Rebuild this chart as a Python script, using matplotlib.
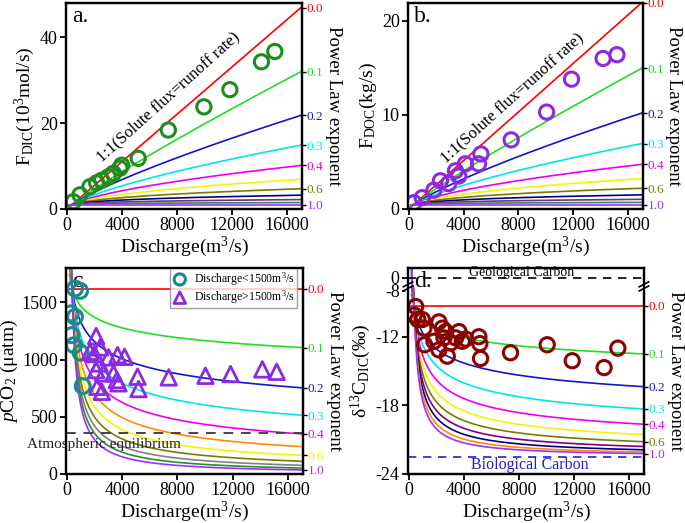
import numpy as np
import matplotlib
matplotlib.use('Agg')
import matplotlib.pyplot as plt

plt.rcParams['font.family'] = 'Liberation Serif'
plt.rcParams['mathtext.fontset'] = 'custom'
plt.rcParams['mathtext.rm'] = 'Liberation Serif'
plt.rcParams['mathtext.it'] = 'Liberation Serif:italic'
plt.rcParams['axes.unicode_minus'] = False
plt.rcParams['axes.linewidth'] = 1.6
plt.rcParams['xtick.major.width'] = 1.3
plt.rcParams['ytick.major.width'] = 1.3
plt.rcParams['xtick.major.size'] = 4
plt.rcParams['ytick.major.size'] = 4

# Power law model lines
EXPONENTS = [0.0, 0.1, 0.2, 0.3, 0.4, 0.5, 0.6, 0.7, 0.8, 0.9, 1.0]
LABELLED = [0.0, 0.1, 0.2, 0.3, 0.4, 0.6, 1.0]
Q_REF = 370.0
Q_MIN = 180.0
Q_MAX = 17000.0
F_DIC_REF = 1.02      # 10^3 mol/s at Q_REF
F_DOC_REF = 0.477     # kg/s at Q_REF
PCO2_REF = 1620.0     # uatm at Q_REF
D13C_REF = -9.3
D13C_BIO = -22.5
D13C_GEO = 0.0
PCO2_ATM = 358.0

COLORS_AB = ['#ff0000', '#22dd22', '#1414c8', '#00e5ee', '#ee00ee', '#f5f500',
             '#7b7b00', '#000080', '#7b2d7b', '#2e8b57', '#9b30ff']
COLORS_C = ['#ff0000', '#22dd22', '#1414c8', '#00e5ee', '#ee00ee', '#ff8c00',
            '#f5f500', '#7b7b00', '#808080', '#2e8b2e', '#9b30ff']
COLORS_D = ['#ff0000', '#22dd22', '#1414c8', '#00e5ee', '#ee00ee', '#f5f500',
            '#7b7b00', '#800080', '#000080', '#ff8c00', '#9b30ff']

# a. DIC flux
q_a = [460, 945, 1670, 2160, 2520, 3000, 3370, 3850, 3980, 5180, 7370, 9960,
       11850, 14150, 15120]
f_dic = [1.7, 3.3, 5.2, 6.1, 6.7, 7.5, 8.3, 9.5, 10.2, 11.8, 18.4, 23.8,
         27.8, 34.3, 36.7]

# b. DOC flux
q_b = [365, 970, 1820, 2300, 2900, 3400, 3640, 4120, 5090, 5260, 7470, 10060,
       11880, 14190, 15200]
f_doc = [0.67, 1.2, 2.0, 3.0, 2.7, 4.06, 3.5, 4.8, 4.8, 5.85, 7.35, 10.3,
         13.8, 16.0, 16.4]

# c. pCO2
q_c_low = [580, 945, 270, 580, 340, 510, 990, 1140]
pco2_low = [1621, 1600, 1403, 1373, 1213, 1126, 1059, 768]
q_c_high = [2110, 2400, 1670, 1990, 3010, 3660, 4170, 2350, 2110, 2640, 3370,
            3610, 3730, 5110, 5180, 2200, 2520, 7370, 10030, 11850, 14150, 15190]
pco2_high = [1205, 1106, 1068, 1048, 1019, 1039, 1024, 966, 908, 879, 879,
             821, 792, 850, 742, 762, 718, 844, 858, 873, 914, 893]

# d. d13C-DIC
q_d = [490, 385, 650, 975, 1090, 1140, 2180, 2430, 2670, 1820, 2180, 2790,
       2550, 3030, 3400, 3640, 3880, 4120, 5090, 5160, 5210, 7390, 10060,
       11880, 14200, 15200]
d13c = [-9.36, -10.1, -10.5, -10.5, -11.25, -12.7, -10.7, -11.25, -11.55,
        -12.4, -13.15, -13.7, -12.1, -12.55, -12.1, -11.55, -12.4, -12.2,
        -12.0, -12.6, -13.9, -13.4, -12.7, -14.1, -14.7, -13.0]

XTICKS = [0, 4000, 8000, 12000, 16000]

# broken y axis for panel d
LO, HI, K = -7.6, -0.6, 0.02
D_TOP = 0.87


def fwd(y):
    y = np.asarray(y, dtype=float)
    return np.where(y <= LO, y,
                    np.where(y >= HI, LO + (HI - LO) * K + (y - HI), LO + (y - LO) * K))


def inv(z):
    z = np.asarray(z, dtype=float)
    zhi = LO + (HI - LO) * K
    return np.where(z <= LO, z,
                    np.where(z >= zhi, HI + (z - zhi), LO + (z - LO) / K))


def flux_model(ref, b, q):
    return ref * (q / Q_REF) ** (1 - b)


def pco2_model(b, q):
    return PCO2_REF * (q / Q_REF) ** (-b)


def d13c_model(b, q):
    return D13C_BIO + (D13C_REF - D13C_BIO) * (q / Q_REF) ** (-b)


def right_labels(ax, model, colors, scale=None):
    ax2 = ax.twinx()
    if scale is not None:
        ax2.set_yscale('function', functions=scale)
    ax2.set_ylim(ax.get_ylim())
    ends = [float(model(b, Q_MAX)) for b in LABELLED]
    ax2.set_yticks(ends)
    ax2.set_yticklabels([f'{b:.1f}' for b in LABELLED])
    ax2.tick_params(axis='y', direction='out', length=3, width=1, pad=0.5,
                    labelsize=9.5)
    for t, b in zip(ax2.yaxis.get_major_ticks(), LABELLED):
        c = colors[EXPONENTS.index(b)]
        t.tick2line.set_color(c)
        t.label2.set_color(c)
    ax.text(1.132, 0.5, 'Power Law exponent', rotation=270, fontsize=13.5,
            ha='center', va='center', transform=ax.transAxes)
    return ax2


def style(ax, letter):
    ax.set_xlim(-70, 17100)
    ax.set_xticks(XTICKS)
    ax.tick_params(labelsize=13, direction='out', pad=2)
    ax.set_xlabel('Discharge(m$^3$/s)', fontsize=14, labelpad=0)
    ax.text(0.025, 0.985, letter, transform=ax.transAxes, va='top',
            ha='left', fontsize=17)


fig = plt.figure(figsize=(6.85, 5.23), dpi=100)
ax_a = fig.add_axes([0.0964, 0.6004, 0.3445, 0.3939])
ax_b = fig.add_axes([0.5956, 0.6004, 0.3430, 0.3939])
ax_c = fig.add_axes([0.0964, 0.0937, 0.3460, 0.3939])
ax_d = fig.add_axes([0.5956, 0.0937, 0.3445, 0.3939])

q = np.linspace(Q_MIN, Q_MAX, 600)

# ---- a ----
for b, c in zip(EXPONENTS, COLORS_AB):
    ax_a.plot(q, flux_model(F_DIC_REF, b, q), color=c, lw=1.2)
ax_a.scatter(q_a, f_dic, s=105, facecolors='none', edgecolors='#1e8c1e',
             linewidths=2.2, zorder=5)
ax_a.set_ylim(0, 48)
ax_a.set_yticks([0, 20, 40])
ax_a.set_ylabel(r'F$_{\rm DIC}$(10$^3$mol/s)', fontsize=14, labelpad=2)
ax_a.text(7340, 26, '1:1(Solute flux=runoff rate)', rotation=42,
          ha='center', va='center', fontsize=12)
style(ax_a, 'a.')
right_labels(ax_a, lambda b, x: flux_model(F_DIC_REF, b, x), COLORS_AB)

# ---- b ----
for b, c in zip(EXPONENTS, COLORS_AB):
    ax_b.plot(q, flux_model(F_DOC_REF, b, q), color=c, lw=1.2)
ax_b.scatter(q_b, f_doc, s=105, facecolors='none', edgecolors='#8a2be2',
             linewidths=2.2, zorder=5)
ax_b.set_ylim(0, 21.9)
ax_b.set_yticks([0, 10, 20])
ax_b.set_ylabel(r'F$_{\rm DOC}$(kg/s)', fontsize=14, labelpad=2)
ax_b.text(7540, 11.8, '1:1(Solute flux=runoff rate)', rotation=42,
          ha='center', va='center', fontsize=12)
style(ax_b, 'b.')
right_labels(ax_b, lambda b, x: flux_model(F_DOC_REF, b, x), COLORS_AB)

# ---- c ----
for b, c in zip(EXPONENTS, COLORS_C):
    ax_c.plot(q, pco2_model(b, q), color=c, lw=1.2)
ax_c.axhline(PCO2_ATM, color='#444444', lw=1.4, ls=(0, (5, 4)))
ax_c.text(-2900, 255, 'Atmospheric equilibrium', fontsize=11,
          ha='left', va='center', color='#222222', clip_on=False)
ax_c.scatter(q_c_low, pco2_low, s=115, facecolors='none', edgecolors='#1a8a8a',
             linewidths=2.2, zorder=5, label='Discharge<1500m$^3$/s')
ax_c.scatter(q_c_high, pco2_high, s=125, marker='^', facecolors='none',
             edgecolors='#8a2be2', linewidths=2.0, zorder=5,
             label='Discharge>1500m$^3$/s')
ax_c.set_ylim(0, 1800)
ax_c.set_yticks([0, 500, 1000, 1500])
ax_c.set_ylabel(r'$p$CO$_2$ (μatm)', fontsize=14, labelpad=1)
style(ax_c, 'c.')
leg = ax_c.legend(loc='upper right', bbox_to_anchor=(0.975, 1.0),
                  fontsize=8.5, frameon=True, fancybox=False,
                  markerscale=0.75, handlelength=1.2, handletextpad=0.6,
                  borderpad=0.2, labelspacing=0.05, borderaxespad=0)
leg.get_frame().set_edgecolor('#888888')
right_labels(ax_c, pco2_model, COLORS_C)

# ---- d ----
ax_d.set_yscale('function', functions=(fwd, inv))
for b, c in zip(EXPONENTS, COLORS_D):
    ax_d.plot(q, d13c_model(b, q), color=c, lw=1.2)
ax_d.axhline(D13C_GEO, color='black', lw=1.2, ls=(0, (5, 4)))
ax_d.axhline(D13C_BIO, color='#2020d0', lw=1.2, ls=(0, (5, 4)))
ax_d.scatter(q_d, d13c, s=105, facecolors='none', edgecolors='#8b0000',
             linewidths=2.2, zorder=5)
ax_d.set_ylim(-24, D_TOP)
ax_d.set_yticks([-24, -18, -12, -8, 0])
ax_d.set_yticklabels(['-24', '-18', '-12', '-8', '0'])
ax_d.set_ylabel(r'δ$^{13}$C$_{\rm DIC}$(‰)', fontsize=14, labelpad=2)
ax_d.text(8200, 0.45, 'Geological Carbon', fontsize=10, ha='center',
          va='center')
ax_d.text(8800, -23.2, 'Biological Carbon', fontsize=11.5, ha='center',
          va='center', color='#2020d0')
style(ax_d, 'd.')
right_labels(ax_d, d13c_model, COLORS_D, scale=(fwd, inv))

# break marks on panel d
yb = (float(fwd(-7.55)) + 24) / (float(fwd(D_TOP)) + 24)
for x0 in (0, 1):
    ax_d.plot([x0, x0], [yb - 0.012, yb + 0.012], color='white', lw=4,
              transform=ax_d.transAxes, clip_on=False, zorder=10)
    for dy in (-0.01, 0.01):
        ax_d.plot([x0 - 0.02, x0 + 0.02], [yb + dy - 0.012, yb + dy + 0.012],
                  color='black', lw=1.2, transform=ax_d.transAxes,
                  clip_on=False, zorder=11)

fig.savefig('out.png', dpi=100)
